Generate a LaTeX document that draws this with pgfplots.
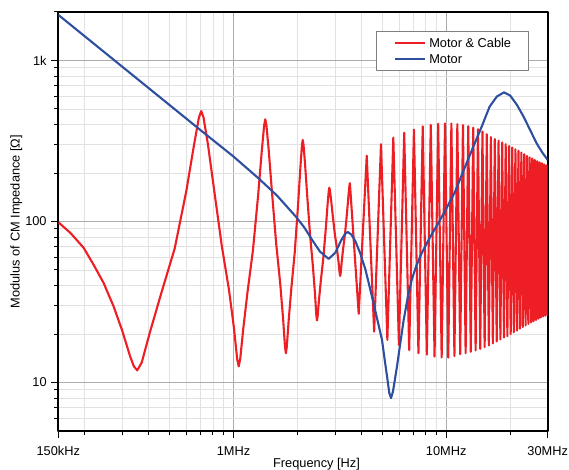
\documentclass[border=0pt]{standalone}
\usepackage{fontspec}
\setmainfont{Liberation Sans}
\usepackage{pgfplots}
\pgfplotsset{compat=1.18}
\definecolor{cred}{RGB}{237,30,36}
\definecolor{cblue}{RGB}{46,78,160}
\definecolor{majgrid}{RGB}{172,172,172}
\definecolor{mingrid}{RGB}{226,226,226}
\pgfplotsset{legend image code/.code={\draw[#1] (0pt,0pt) -- (30pt,0pt);}}
\begin{document}
\fontsize{12.8}{15}\selectfont
\begin{tikzpicture}
\begin{axis}[
  at={(0,0)}, anchor=south west,
  scale only axis, width=489.4pt, height=419pt,
  xmode=log, ymode=log,
  xmin=0.15, xmax=30, ymin=5, ymax=2000,
  xtick={0.15,1,10,30}, xticklabels={150kHz,1MHz,10MHz,30MHz},
  minor xtick={0.2,0.3,0.4,0.5,0.6,0.7,0.8,0.9,2,3,4,5,6,7,8,9,20},
  ytick={10,100,1000}, yticklabels={10,100,1k},
  minor ytick={6,7,8,9,20,30,40,50,60,70,80,90,200,300,400,500,600,700,800,900,2000},
  tick align=outside, tick pos=left,
  major tick length=7pt, minor tick length=4.5pt,
  every tick/.style={black, line width=1pt},
  grid=both,
  major grid style={majgrid, line width=0.8pt},
  minor grid style={mingrid, line width=0.8pt},
  axis line style={black, line width=1.6pt},
  xticklabel style={inner sep=0pt, anchor=north, yshift=-8.5pt},
  yticklabel style={inner sep=0pt, anchor=east, xshift=-4.5pt},
  xlabel={Frequency [Hz]},
  ylabel={Modulus of CM Impedance [Ω]},
  xlabel style={at={(axis description cs:0.5276,-0.0642)}, anchor=north, inner sep=0pt},
  ylabel style={at={(axis description cs:-0.0858,0.5)}, anchor=center, inner sep=0pt, rotate=0},
  legend cell align=left,
  legend style={at={(0.9618,0.9554)}, anchor=north east, draw=gray, line width=0.8pt, fill=white,
    inner xsep=17.5pt, inner ysep=7pt, row sep=6.8pt, column sep=3.3pt,
    nodes={inner sep=0pt, text height=9.2pt, text depth=0pt}},
  line join=round,
]
\addplot[cred, line width=2.1pt] coordinates {
(0.15,99) (0.1709,85) (0.1973,68.7) (0.2196,54) (0.2448,41.6) (0.2727,29.8) (0.2986,21.3) (0.3267,14.5) (0.3400,12.6) (0.3525,11.9)
(0.3701,13.3) (0.4054,20.75) (0.4583,36.2) (0.5288,67.9) (0.5993,153.7) (0.6521,299.5) (0.6874,441.9) (0.705,485)
(0.7226,442.7) (0.7579,301.7) (0.8108,156.4) (0.8813,70.1) (0.9518,37.7) (1.0046,21.8) (1.0399,14.06) (1.0575,12.6)
(1.0751,14.01) (1.1104,21.4) (1.1633,36.4) (1.2338,66.3) (1.3043,144.2) (1.3571,272.3) (1.3924,394.7) (1.41,431)
(1.4276,396.6) (1.4629,279) (1.5158,152.9) (1.5863,73.2) (1.6568,41.5) (1.7096,25.1) (1.7449,16.8) (1.7625,15.2)
(1.7801,16.66) (1.8154,24.0) (1.8683,37.96) (1.9388,63.75) (2.0093,124.7) (2.0621,215.9) (2.0974,297.4) (2.115,321)
(2.1326,301) (2.1679,229.5) (2.2208,144.2) (2.2913,81.7) (2.3618,52.7) (2.4146,35.8) (2.4499,26.3) (2.4675,24.3)
(2.4851,25.7) (2.5204,32.3) (2.5733,42.9) (2.6438,59.3) (2.7143,90.0) (2.7671,126.6) (2.8024,154.5) (2.82,162)
(2.8376,157) (2.8729,137.5) (2.9258,109.6) (2.9963,83.1) (3.0668,67.0) (3.1196,55.5) (3.1549,47.7) (3.1725,45.9)
(3.1901,47.8) (3.2254,56.0) (3.2783,68.3) (3.3488,85.6) (3.4193,114.7) (3.4721,145.6) (3.5074,167.4) (3.525,173)
(3.8775,26.7) (4.23,256) (4.5825,20.7) (4.935,302) (5.2875,18.4) (5.64,332) (5.9925,17.1) (6.345,356)
(6.6975,15.9) (7.05,372) (7.4025,15.2) (7.755,390) (8.1075,14.9) (8.46,398) (8.8125,14.5) (9.165,405)
(9.5175,14.3) (9.87,407) (10.2225,14.3) (10.575,406) (10.9275,14.6) (11.28,402) (11.6325,15.0) (11.985,397)
(12.3375,15.2) (12.69,391) (13.0425,15.5) (13.395,383) (13.7475,15.8) (14.1,374) (14.4525,16.2) (14.805,362)
(15.1575,16.6) (15.51,348) (15.8625,17.0) (16.215,334) (16.5675,17.5) (16.92,325) (17.2725,18.0) (17.625,318)
(17.9775,18.5) (18.33,310) (18.6825,19.0) (19.035,302) (19.3875,19.4) (19.74,294) (20.0925,20.0) (20.445,288)
(20.7975,20.5) (21.15,281) (21.5025,21.0) (21.855,275) (22.2075,21.6) (22.56,268) (22.9125,22.1) (23.265,262)
(23.6175,22.6) (23.97,255) (24.3225,23.1) (24.675,250) (25.0275,23.6) (25.38,246) (25.7325,24.0) (26.085,241)
(26.4375,24.4) (26.79,237) (27.1425,24.9) (27.495,233) (27.8475,25.3) (28.2,230) (28.5525,25.7) (28.905,226)
(29.2575,26.0) (29.61,223) (29.9625,26.3) (30,27.5)
};
\addlegendentry{Motor \& Cable}
\addplot[cblue, line width=2.1pt] coordinates {
(0.15,1920) (0.3,914) (0.5,529) (0.7,369) (1.0,253) (1.313,185) (1.6,145) (1.954,108) (2.15,92) (2.34,77)
(2.55,65) (2.8,58.6) (3.01,64) (3.2,76) (3.35,84) (3.45,86) (3.58,83) (3.74,75.5) (3.95,63) (4.17,50.3)
(4.35,40) (4.55,31.2) (4.78,23.5) (4.99,18.4) (5.15,13.5) (5.27,10.9) (5.40,8.6) (5.50,8.0) (5.62,8.8)
(5.87,12.6) (6.08,17.5) (6.31,24.5) (6.6,34) (6.89,43.6) (7.25,53.5) (7.68,63.9) (8.4,80) (9.19,98)
(10.0,120) (10.98,152) (12.2,215) (13.4,291) (14.7,390) (16.0,517) (17.3,597) (18.7,634) (20.0,605)
(21.5,530) (23.1,448) (24.8,370) (26.6,306) (28.3,268) (30,241)
};
\addlegendentry{Motor}
\end{axis}
\pgfresetboundingbox
\useasboundingbox (-58.3pt,-39pt) rectangle (510.7pt,431pt);
\end{tikzpicture}
\end{document}
